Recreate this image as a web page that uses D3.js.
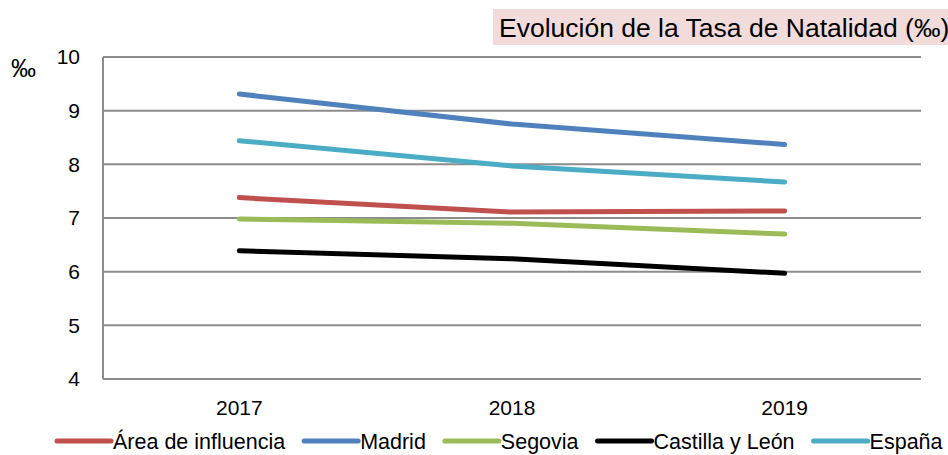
<!DOCTYPE html>
<html>
<head>
<meta charset="utf-8">
<script src="https://cdn.jsdelivr.net/npm/d3@7"></script>
<style>
  body { margin: 0; background: #fff; }
  text { font-family: "Liberation Sans", Arial, sans-serif; fill: #000; }
</style>
</head>
<body>
<div class="svgWrap"></div>
<script>
var years = ["2017", "2018", "2019"];
var series = ["Área de influencia", "Madrid", "Segovia", "Castilla y León", "España"];
var areaVals = [7.38, 7.11, 7.13];
var madridVals = [9.31, 8.75, 8.37];
var segoviaVals = [6.98, 6.90, 6.70];
var cylVals = [6.39, 6.24, 5.97];
var espanaVals = [8.44, 7.97, 7.67];
var yTicks = [4, 5, 6, 7, 8, 9, 10];
var colors = ["#c0504d", "#4f81bd", "#9bbb59", "#000000", "#4bacc6"];

var allVals = [areaVals, madridVals, segoviaVals, cylVals, espanaVals];

var W = 948, H = 455;
var margin = {top: 57, right: 27, bottom: 76, left: 103};
var width = W - margin.left - margin.right;
var height = H - margin.top - margin.bottom;

var svg = d3.select(".svgWrap").append("svg")
  .attr("width", W).attr("height", H);

var g = svg.append("g")
  .attr("transform", "translate(" + margin.left + "," + margin.top + ")");

var x = d3.scaleBand().domain(years).range([0, width]);
var y = d3.scaleLinear().domain([4, 10]).range([height, 0]);

// gridlines
g.selectAll(".grid").data(yTicks).enter().append("line")
  .attr("x1", 0).attr("x2", width)
  .attr("y1", function(d){ return y(d); })
  .attr("y2", function(d){ return y(d); })
  .attr("stroke", "#8c8c8c").attr("stroke-width", 2);

// y axis line
g.append("line")
  .attr("x1", 0).attr("x2", 0).attr("y1", 0).attr("y2", height)
  .attr("stroke", "#8c8c8c").attr("stroke-width", 2);

// y tick labels
var yAxis = g.append("g")
  .call(d3.axisLeft(y).tickValues(yTicks).tickSize(0).tickPadding(23).tickFormat(d3.format("d")));
yAxis.select(".domain").remove();
yAxis.selectAll("text").style("font-size", "21px").style("font-family", "Liberation Sans, Arial, sans-serif");

// x tick labels
var xAxis = g.append("g")
  .attr("transform", "translate(0," + height + ")")
  .call(d3.axisBottom(x).tickSize(0).tickPadding(21));
xAxis.select(".domain").remove();
xAxis.selectAll("text").style("font-size", "21px").style("font-family", "Liberation Sans, Arial, sans-serif");

// lines
var line = d3.line()
  .x(function(d, i){ return x(years[i]) + x.bandwidth() / 2; })
  .y(function(d){ return y(d); });

g.selectAll(".series").data(allVals).enter().append("path")
  .attr("d", line)
  .attr("fill", "none")
  .attr("stroke", function(d, i){ return colors[i]; })
  .attr("stroke-width", 5)
  .attr("stroke-linecap", "round")
  .attr("stroke-linejoin", "round");

// unit label
svg.append("text")
  .attr("x", 11).attr("y", 77)
  .style("font-size", "25px")
  .text("‰");

// title with pink box
svg.append("rect")
  .attr("x", 493).attr("y", 9).attr("width", 470).attr("height", 36)
  .attr("fill", "#f2dcdb");
svg.append("text")
  .attr("x", 499).attr("y", 37)
  .style("font-size", "26.5px")
  .text("Evolución de la Tasa de Natalidad (‰)");

// legend
var legend = svg.append("g").attr("transform", "translate(55,441)");
var lx = 0;
series.forEach(function(name, i){
  var item = legend.append("g").attr("transform", "translate(" + lx + ",0)");
  item.append("line")
    .attr("x1", 2).attr("x2", 56).attr("y1", 0).attr("y2", 0)
    .attr("stroke", colors[i]).attr("stroke-width", 5)
    .attr("stroke-linecap", "round");
  var t = item.append("text")
    .attr("x", 58).attr("y", 8)
    .style("font-size", "21.5px")
    .text(name);
  lx += 58 + t.node().getComputedTextLength() + 17;
});
</script>
</body>
</html>
